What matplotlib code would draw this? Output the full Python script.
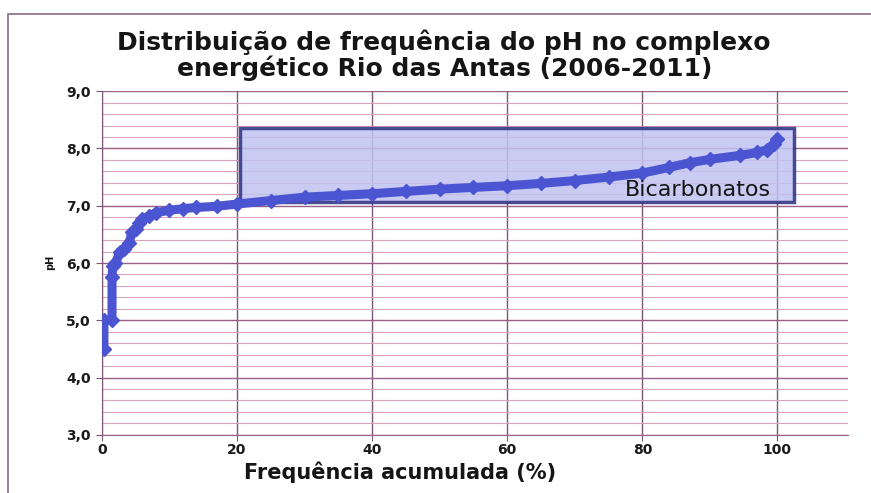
import matplotlib.pyplot as plt
from matplotlib.patches import Rectangle
from matplotlib.ticker import MultipleLocator, FuncFormatter

# cumulative frequency (%) and pH
freq = [0.3, 0.3, 1.5, 1.5, 1.6, 2.0, 2.7, 3.3, 4.0, 4.5, 5.0, 5.5, 6.0, 7.0,
        8.0, 10, 12, 14, 17, 20, 25, 30, 35, 40, 45, 50, 55, 60, 65, 70, 75,
        80, 84, 87, 90, 94.5, 97, 98.5, 99.5, 100]
ph = [4.5, 5.0, 5.0, 5.75, 5.95, 6.0, 6.2, 6.25, 6.35, 6.55, 6.6, 6.7, 6.76,
      6.82, 6.88, 6.92, 6.95, 6.97, 6.99, 7.03, 7.09, 7.15, 7.18, 7.21, 7.25,
      7.29, 7.32, 7.35, 7.39, 7.44, 7.5, 7.57, 7.67, 7.75, 7.81, 7.88, 7.93,
      7.98, 8.08, 8.17]

# highlighted region (freq range, pH range)
box_freq = (20.4, 102.4)
box_ph = (7.06, 8.35)
box_label = "Bicarbonatos"

title = "Distribuição de frequência do pH no complexo\nenergético Rio das Antas (2006-2011)"
xlabel = "Frequência acumulada (%)"
ylabel = "pH"

major_c = "#9a5f86"
minor_c = "#d9a3bd"
line_c = "#4b55d2"

fig = plt.figure(figsize=(8.71, 4.93), dpi=100)
ax = fig.add_axes([0.117, 0.118, 0.857, 0.697])

# chart-area frame (left and top edges visible)
fig.patches.append(Rectangle((0.009, -0.1), 1.2, 1.072, transform=fig.transFigure,
                             fill=False, edgecolor="#8a6a85", linewidth=1.2))

ax.set_xlim(0, 110.5)
ax.set_ylim(3, 9)
ax.set_xticks([0, 20, 40, 60, 80, 100])
ax.yaxis.set_major_locator(MultipleLocator(1))
ax.yaxis.set_minor_locator(MultipleLocator(0.2))
ax.yaxis.set_major_formatter(FuncFormatter(lambda v, p: f"{v:.1f}".replace(".", ",")))

ax.grid(True, which="major", axis="y", color=major_c, linewidth=1.0)
ax.grid(True, which="minor", axis="y", color=minor_c, linewidth=0.8)
ax.grid(True, which="major", axis="x", color="#7d5676", linewidth=1.0)
ax.set_axisbelow(True)

for s in ["top", "right"]:
    ax.spines[s].set_visible(False)
ax.spines["left"].set_color("#7d5676")
ax.spines["bottom"].set_color(major_c)

ax.tick_params(axis="both", which="major", length=4, color="#7d5676",
               labelsize=10, labelcolor="#1a1a1a")
ax.tick_params(axis="x", pad=2)
ax.tick_params(axis="y", pad=4)
ax.tick_params(axis="y", which="minor", length=0)
for lab in ax.get_xticklabels() + ax.get_yticklabels():
    lab.set_fontweight("bold")

ax.add_patch(Rectangle((box_freq[0], box_ph[0]), box_freq[1] - box_freq[0],
                       box_ph[1] - box_ph[0], facecolor="#c0c2f0", alpha=0.85,
                       edgecolor="#2c2f80", linewidth=2.5, zorder=2))

ax.plot(freq, ph, color=line_c, linewidth=6.5, marker="D", markersize=7,
        solid_capstyle="round", solid_joinstyle="round", zorder=3)

ax.text(88.3, 7.27, box_label, ha="center", va="center", fontsize=16,
        family="DejaVu Sans", color="#151515", zorder=4)

fig.text(0.510, 0.888, title, ha="center", va="center", fontsize=18,
         family="DejaVu Sans", fontweight="bold", color="#151515", linespacing=1.05)

fig.text(0.459, 0.042, xlabel, ha="center", va="center", fontsize=15,
         fontweight="bold", color="#151515")
fig.text(0.057, 0.468, ylabel, ha="center", va="center", fontsize=7,
         fontweight="bold", rotation=90, color="#151515")

fig.savefig("out.png", dpi=100)
